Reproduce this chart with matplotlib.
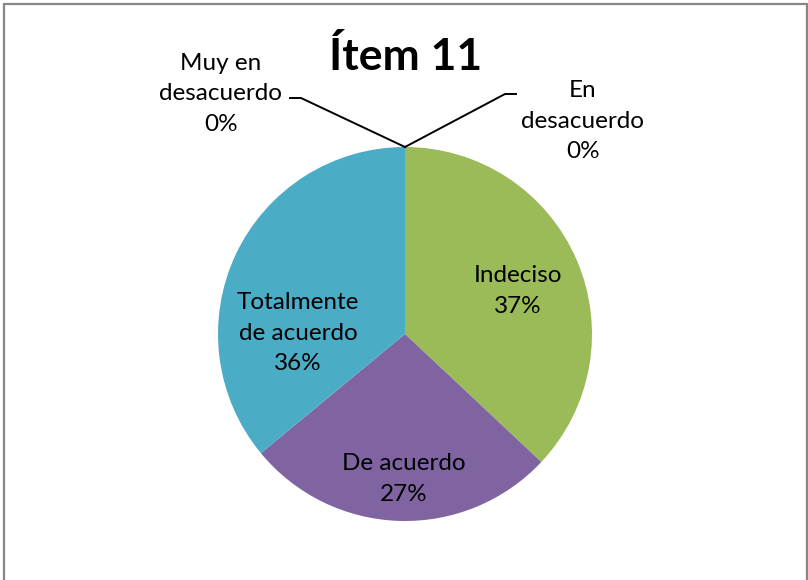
import matplotlib.pyplot as plt
from matplotlib.patches import Rectangle
import numpy as np

plt.rcParams['font.family'] = ['Lato', 'DejaVu Sans']

# responses to item 11, in survey order (clockwise from the top)
categorias = ['Muy en\ndesacuerdo', 'En\ndesacuerdo', 'Indeciso',
              'De acuerdo', 'Totalmente\nde acuerdo']
porcentajes = [0, 0, 37, 27, 36]
colores = ['#4F81BD', '#C0504D', '#9BBB59', '#8064A2', '#4BACC6']

W, H = 808, 580
fig = plt.figure(figsize=(W / 100, H / 100), dpi=100)
ax = fig.add_axes([0, 0, 1, 1])

cx, cy, r = 405, H - 334, 187
wedges, _ = ax.pie(porcentajes, colors=colores, startangle=90, counterclock=False,
                   center=(cx, cy), radius=r, wedgeprops=dict(linewidth=0),
                   frame=True)
ax.set_xlim(0, W)
ax.set_ylim(0, H)
ax.set_aspect('equal')
ax.axis('off')

fs = 17.5
ls = 1.55
# labels for the visible slices
pos_in = {2: (518, H - 291), 3: (404, H - 479), 4: (298, H - 333)}
for i, (x, y) in pos_in.items():
    ax.text(x, y, '%s\n%d%%' % (categorias[i], porcentajes[i]), ha='center',
            va='center', fontsize=fs, linespacing=ls, color='black')

# zero slices sit at the top, labelled outside with leader lines
top = (cx, cy + r)
ax.text(221, H - 94, '%s\n%d%%' % (categorias[0], porcentajes[0]), ha='center',
        va='center', fontsize=fs, linespacing=ls)
ax.plot([top[0], 301, 290], [top[1], H - 98, H - 98], color='black', lw=1.4)
ax.text(583, H - 121, '%s\n%d%%' % (categorias[1], porcentajes[1]), ha='center',
        va='center', fontsize=fs, linespacing=ls)
ax.plot([top[0], 505, 516], [top[1], H - 94, H - 94], color='black', lw=1.4)

ax.text(406, H - 57, 'Ítem 11', ha='center', va='center', fontsize=32,
        fontweight='bold')

fig.patches.append(Rectangle((4 / W, -0.01), (807 - 4) / W, 1 - 4 / H + 0.01,
                             transform=fig.transFigure, fill=False,
                             edgecolor='#878787', lw=1.6))

fig.savefig('out.png', dpi=100)
